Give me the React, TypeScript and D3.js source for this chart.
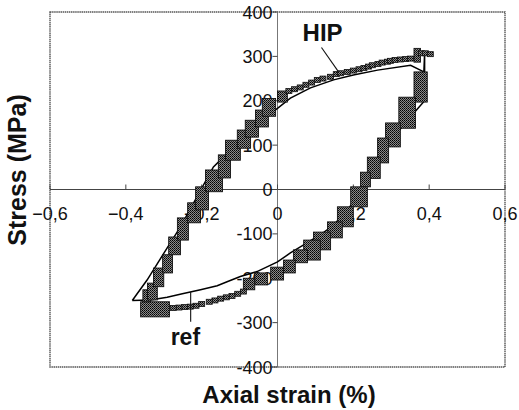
import * as d3 from "d3";

// ref curve (solid line), strain %, stress MPa
const refCurve: [number, number][] = [
  [-0.383, -250], [-0.344, -204], [-0.3, -144], [-0.256, -84], [-0.212, -16],
  [-0.169, 51], [-0.132, 82], [-0.09, 118], [-0.045, 156], [0, 183],
  [0.034, 206], [0.087, 229], [0.148, 247], [0.2, 258], [0.264, 269],
  [0.351, 280], [0.386, 265], [0.388, 307], [0.388, 200], [0.351, 164],
  [0.307, 119], [0.263, 72], [0.237, 26], [0.211, -17], [0.184, -46],
  [0.148, -80], [0.113, -102], [0.069, -125], [0.034, -143], [0, -163],
  [-0.054, -185], [-0.098, -196], [-0.133, -208], [-0.159, -217], [-0.203, -226],
  [-0.251, -235], [-0.291, -243], [-0.335, -249], [-0.383, -250],
];

// HIP marker clusters: [strainFrom, strainTo, stressHigh, stressLow]
const hipBlocks: [number, number, number, number][] = [
  [-0.361, -0.285, -253, -287],
  [-0.355, -0.335, -226, -253],
  [-0.343, -0.317, -211, -249],
  [-0.327, -0.3, -177, -219],
  [-0.303, -0.277, -147, -188],
  [-0.287, -0.256, -107, -147],
  [-0.264, -0.235, -64, -114],
  [-0.237, -0.203, -30, -75],
  [-0.216, -0.182, 6, -46],
  [-0.19, -0.145, 44, -5],
  [-0.156, -0.124, 78, 26],
  [-0.137, -0.098, 111, 66],
  [-0.106, -0.071, 134, 93],
  [-0.085, -0.05, 156, 118],
  [-0.058, -0.024, 179, 141],
  [-0.04, -0.005, 205, 165],
  [0.0, 0.026, 222, 197],
  [0.36, 0.377, 318, 287],
  [0.36, 0.395, 265, 197],
  [0.32, 0.364, 208, 138],
  [0.285, 0.324, 150, 96],
  [0.264, 0.293, 116, 60],
  [0.237, 0.271, 73, 25],
  [0.219, 0.245, 39, 6],
  [0.193, 0.237, 6, -39],
  [0.158, 0.2, -39, -84],
  [0.132, 0.171, -73, -109],
  [0.095, 0.14, -96, -136],
  [0.069, 0.113, -114, -159],
  [0.042, 0.079, -136, -165],
  [0.016, 0.047, -159, -188],
  [-0.018, 0.016, -175, -204],
  [-0.06, -0.026, -188, -215],
  [-0.09, -0.06, -200, -226],
];

// HIP single markers along the flatter parts
const hipPoints: [number, number][] = [
  [0.03, 222], [0.045, 226], [0.06, 230], [0.075, 236], [0.09, 241],
  [0.105, 247], [0.12, 250], [0.14, 254], [0.155, 260], [0.166, 262],
  [0.184, 265], [0.2, 268], [0.215, 271], [0.228, 274], [0.24, 277],
  [0.25, 280], [0.265, 283], [0.276, 286], [0.29, 288], [0.298, 290],
  [0.31, 292], [0.324, 293], [0.338, 294], [0.351, 295],
  [0.38, 307], [0.39, 307], [0.403, 305],
  [-0.09, -230], [-0.105, -235], [-0.12, -240], [-0.135, -243], [-0.15, -246],
  [-0.165, -250], [-0.18, -253], [-0.2, -258], [-0.215, -262], [-0.23, -264],
  [-0.245, -265], [-0.26, -266], [-0.275, -267],
];

const xTicks = [-0.6, -0.4, -0.2, 0, 0.2, 0.4, 0.6];
const yTicks = [-400, -300, -200, -100, 0, 100, 200, 300, 400];
const fmtX = (v: number) => (v === 0 ? "0" : d3.format(".1f")(v).replace(".", ","));

export default function App() {
  const width = 519, height = 410;
  const x = d3.scaleLinear().domain([-0.6, 0.6]).range([50, 505]);
  const y = d3.scaleLinear().domain([-400, 400]).range([367, 12]);
  const line = d3.line<[number, number]>().x(d => x(d[0])).y(d => y(d[1]));
  const font = "Arial, 'Liberation Sans', sans-serif";

  return (
    <svg width={width} height={height} style={{ position: "absolute", left: 0, top: 0, background: "#fff" }}>
      <defs>
        <pattern id="stip" width={2} height={2} patternUnits="userSpaceOnUse">
          <rect width={2} height={2} fill="#8a8a8a" />
          <rect width={1} height={1} fill="#000" />
          <rect x={1} y={1} width={1} height={1} fill="#222" />
        </pattern>
      </defs>
      <rect x={x(-0.6)} y={y(400)} width={x(0.6) - x(-0.6)} height={y(-400) - y(400)}
        fill="none" stroke="#555" strokeWidth={1.4} strokeDasharray="1.5 0.6" />
      <line x1={x(-0.6)} x2={x(0.6)} y1={y(0)} y2={y(0)} stroke="#444" strokeWidth={1} />
      <line x1={x(0)} x2={x(0)} y1={y(400)} y2={y(-400)} stroke="#777" strokeWidth={1} />
      {xTicks.map(t => (
        <g key={"x" + t}>
          <line x1={x(t)} x2={x(t)} y1={y(0)} y2={y(0) - 5} stroke="#444" />
          <text x={x(t)} y={y(0) + 30} textAnchor="middle" fontFamily={font} fontSize={18} fill="#111">{fmtX(t)}</text>
        </g>
      ))}
      {yTicks.map(t => (
        <g key={"y" + t}>
          <line x1={x(0) - 5} x2={x(0)} y1={y(t)} y2={y(t)} stroke="#444" />
          <text x={x(0) - 5} y={y(t) + 6.5} textAnchor="end" fontFamily={font} fontSize={18} fill="#111">{t}</text>
        </g>
      ))}
      <path d={line(refCurve) ?? ""} fill="none" stroke="#000" strokeWidth={1.5} />
      {hipBlocks.map((b, i) => (
        <rect key={"b" + i} x={x(b[0])} y={y(b[2])} width={x(b[1]) - x(b[0])} height={y(b[3]) - y(b[2])}
          fill="url(#stip)" stroke="#111" strokeWidth={0.9} />
      ))}
      {hipPoints.map((p, i) => (
        <rect key={"p" + i} x={x(p[0]) - 3} y={y(p[1]) - 2.5} width={6} height={5}
          fill="url(#stip)" stroke="#111" strokeWidth={0.8} />
      ))}
      {/* labels + leaders */}
      <line x1={x(0.116)} y1={y(320)} x2={x(0.161)} y2={y(265)} stroke="#111" strokeWidth={1.1} />
      <text x={x(0.119)} y={y(334)} textAnchor="middle" fontFamily={font} fontWeight="bold" fontSize={24} fill="#111">HIP</text>
      <line x1={x(-0.229)} y1={y(-231)} x2={x(-0.229)} y2={y(-298)} stroke="#111" strokeWidth={1.1} />
      <text x={x(-0.243)} y={y(-350)} textAnchor="middle" fontFamily={font} fontWeight="bold" fontSize={23} fill="#111">ref</text>
      <text x={289} y={403} textAnchor="middle" fontFamily={font} fontWeight="bold" fontSize={24} fill="#111">Axial strain (%)</text>
      <text transform="translate(26,170) rotate(-90)" textAnchor="middle" fontFamily={font} fontWeight="bold" fontSize={25} fill="#111">Stress (MPa)</text>
    </svg>
  );
}
